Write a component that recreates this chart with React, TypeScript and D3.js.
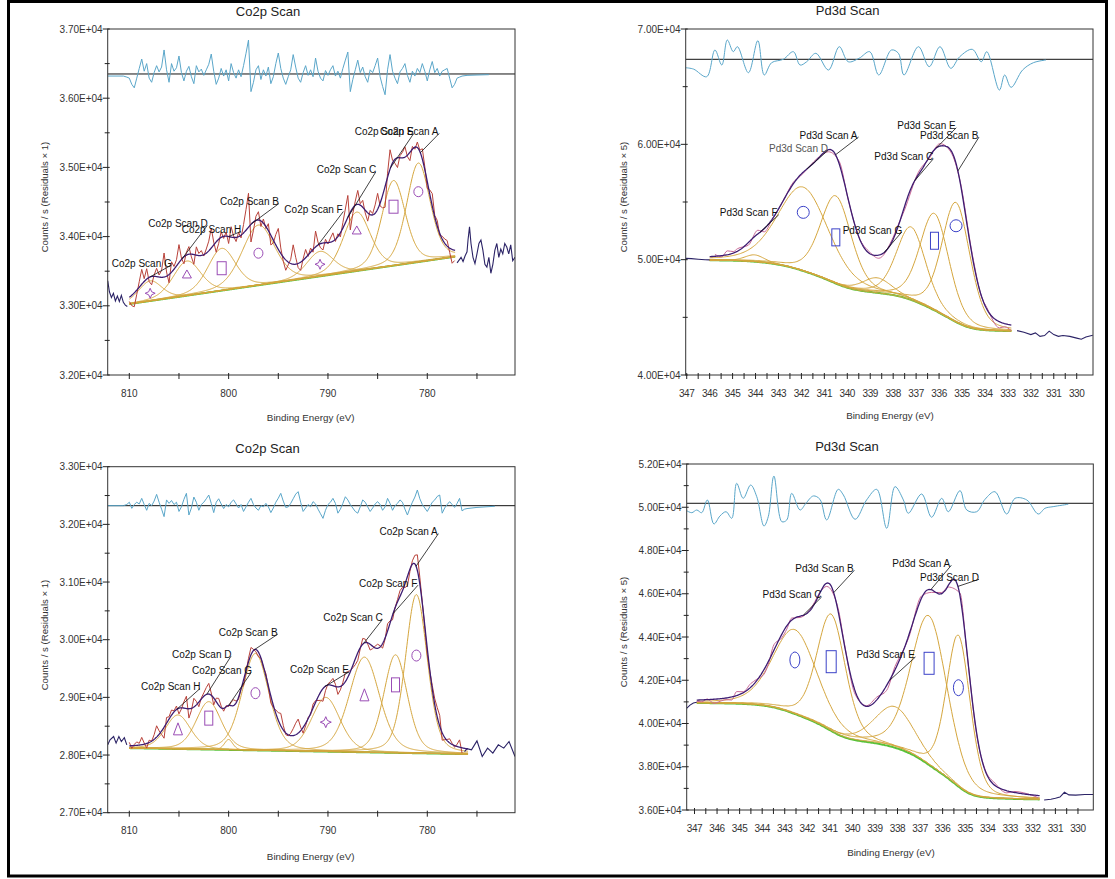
import React from 'react';
import * as d3 from 'd3';

type Peak = { name: string; center: number; height: number; fwhm: number; marker: string | null; markerV: number };
type Lbl = { name: string; textE: number; textV: number; targetE: number; faint?: boolean };

// ================= Co2p Scan (top) =================
const coTopPeaks: Peak[] = [
  { name: 'A', center: 780.9, height: 1430, fwhm: 2.8, marker: 'circle', markerV: 34649 },
  { name: 'E', center: 783.4, height: 1230, fwhm: 2.8, marker: 'square', markerV: 34432 },
  { name: 'C', center: 787.1, height: 850, fwhm: 3.2, marker: 'triangle', markerV: 34096 },
  { name: 'F', center: 790.8, height: 360, fwhm: 3.2, marker: 'star', markerV: 33600 },
  { name: 'B', center: 797.0, height: 870, fwhm: 3.9, marker: 'circle', markerV: 33760 },
  { name: 'H', center: 800.7, height: 610, fwhm: 3.3, marker: 'square', markerV: 33543 },
  { name: 'D', center: 804.2, height: 500, fwhm: 3.3, marker: 'triangle', markerV: 33460 },
  { name: 'G', center: 807.9, height: 290, fwhm: 2.8, marker: 'star', markerV: 33181 },
];
const coTopBackground = [[810.0, 33026], [777.2, 33710]];
const coTopLabels: Lbl[] = [
  { name: 'Co2p Scan G', textE: 811.77, textV: 33561, targetE: 807.9 },
  { name: 'Co2p Scan D', textE: 808.09, textV: 34139, targetE: 804.7 },
  { name: 'Co2p Scan H', textE: 804.72, textV: 34052, targetE: 800.0 },
  { name: 'Co2p Scan B', textE: 800.87, textV: 34457, targetE: 797.7 },
  { name: 'Co2p Scan F', textE: 794.39, textV: 34341, targetE: 791.0 },
  { name: 'Co2p Scan C', textE: 791.13, textV: 34912, targetE: 788.0 },
  { name: 'Co2p Scan E', textE: 787.31, textV: 35468, targetE: 783.7 },
  { name: 'Co2p Scan A', textE: 784.75, textV: 35468, targetE: 780.7 },
];
const coTopResidualStart = 810;
const coTopResidualStep = 0.25;
const coTopResidual = [
  -60, -150, -200, -60, 80, 216, 40, 150, -60, -120, 20, 120, 30, 100, 347, 60, -120, 150, 40, 90,
  260, 20, -100, 40, 110, -40, -140, 120, 30, 70, -20, 60, 140, 288, 40, -150, -60, 80, -30, 60,
  -100, 150, 20, -60, 60, -40, 120, 300, 491, -255, -120, 60, 120, -80, 60, -30, 100, -140, -40, 150,
  303, 80, -60, -150, -40, 60, 280, 100, -60, -120, 20, 120, -20, 60, -40, 230, 40, -60, -100, 50,
  -20, 60, 120, -30, 40, -60, 80, 200, 317, -255, -80, 60, 200, 20, 100, -40, -120, 60, 20, 120,
  230, -40, -180, -300, 60, 280, 40, -60, -140, 30, 80, 150, -20, -120, 40, -30, 80, 20, 150, 40,
  -100, 60, 180, 20, 80, -30, 40, 60, 80, -60, -200, -150,
];
const coTopResidualLeft = [[812.17, -30], [810.6, -30], [810.25, -45]];
const coTopResidualRight = [[777.0, -60], [776.75, -45], [776.5, -30], [776.0, -20], [775.0, -15], [773.8, -10]];
const coTopRawLeft = [
  [812.17, 33360], [812.0, 33200], [811.8, 33120], [811.6, 33180], [811.4, 33070], [811.2, 33140],
  [811.0, 33060], [810.8, 33150], [810.6, 33050], [810.4, 33010], [810.2, 32990],
];
const coTopRawRight = [
  [777.0, 33620], [776.8, 33660], [776.6, 33700], [776.4, 33640], [776.2, 33720], [776.0, 33780],
  [775.9, 33950], [775.75, 34140], [775.6, 33900], [775.4, 33700], [775.2, 33610], [775.0, 33750],
  [774.8, 33900], [774.6, 33950], [774.4, 33800], [774.2, 33600], [774.0, 33560], [773.8, 33700],
  [773.6, 33470], [773.4, 33600], [773.2, 33800], [773.0, 33900], [772.8, 33700], [772.6, 33820],
  [772.4, 33750], [772.2, 33900], [772.0, 33850], [771.8, 33750], [771.6, 33880], [771.4, 33650], [771.17, 33700],
];

// ================= Co2p Scan (bottom) =================
const coBotPeaks: Peak[] = [
  { name: 'A', center: 781.1, height: 2750, fwhm: 2.6, marker: 'circle', markerV: 29725 },
  { name: 'F', center: 783.2, height: 1700, fwhm: 2.8, marker: 'square', markerV: 29217 },
  { name: 'C', center: 786.33, height: 1650, fwhm: 3.6, marker: 'triangle', markerV: 29044 },
  { name: 'E', center: 790.22, height: 940, fwhm: 3.4, marker: 'star', markerV: 28570 },
  { name: 'B', center: 797.3, height: 1680, fwhm: 3.2, marker: 'circle', markerV: 29073 },
  { name: 'G', center: 800.0, height: 180, fwhm: 1.0, marker: null, markerV: 0 },
  { name: 'D', center: 802.0, height: 830, fwhm: 3.0, marker: 'square', markerV: 28640 },
  { name: 'H', center: 805.1, height: 590, fwhm: 3.0, marker: 'triangle', markerV: 28454 },
];
const coBotBackground = [[810.0, 28120], [775.9, 28016]];
const coBotLabels: Lbl[] = [
  { name: 'Co2p Scan A', textE: 784.82, textV: 31813, targetE: 781.13 },
  { name: 'Co2p Scan F', textE: 786.88, textV: 30919, targetE: 783.45 },
  { name: 'Co2p Scan C', textE: 790.47, textV: 30322, targetE: 786.4 },
  { name: 'Co2p Scan B', textE: 801.0, textV: 30069, targetE: 797.4 },
  { name: 'Co2p Scan E', textE: 793.82, textV: 29416, targetE: 790.3 },
  { name: 'Co2p Scan D', textE: 805.7, textV: 29688, targetE: 802.2 },
  { name: 'Co2p Scan G', textE: 803.69, textV: 29399, targetE: 800.0 },
  { name: 'Co2p Scan H', textE: 808.82, textV: 29127, targetE: 805.2 },
];
const coBotResidualStart = 810;
const coBotResidualStep = 0.25;
const coBotResidual = [
  60, -46, 20, 60, 30, 127, 20, -80, 40, 0, 80, 196, 60, -60, -190, 100, 40, 90, 20, 60,
  -100, -20, 110, 214, -162, -40, 150, 60, -80, 20, 60, 120, 185, 40, -120, 60, 120, 30, -50, 20,
  -20, 60, 100, 30, -40, 20, -100, -20, 60, 127, 20, -40, -80, 0, -20, 40, -20, -120, -40, 60,
  130, 214, 80, -30, -20, 40, 120, 200, 243, 60, -100, -40, 20, -20, 70, 30, -60, -140, -220, -80,
  20, 60, 127, 40, -130, -60, 40, 155, 100, 20, -40, -100, -130, -20, 100, 60, -20, -100, -40, 30,
  70, 20, -80, -20, 127, 40, -80, 0, 40, 100, 60, -60, -162, -40, 60, 150, 272, 120, 20, -40,
  -100, -20, 60, 100, 160, 185, -130, -40, 20, 70, 20, -30, 40, 127, -90,
];
const coBotResidualLeft = [[812.17, 0], [810.6, 0], [810.25, 20]];
const coBotResidualRight = [[776.25, -60], [776.0, -50], [775.5, -40], [775.0, -30], [773.2, -10]];
const coBotRawLeft = [
  [812.17, 28177], [811.94, 28264], [811.58, 28321], [811.33, 28207], [811.05, 28321],
  [810.8, 28235], [810.5, 28300], [810.25, 28177],
];
const coBotRawRight = [
  [776.25, 28060], [776.0, 28110], [775.55, 28090], [775.0, 28246], [774.47, 27974], [773.93, 28120],
  [773.4, 28033], [772.85, 28177], [772.3, 28120], [771.77, 28235], [771.17, 27974],
];

// ================= Pd3d Scan (top) =================
const pdTopPeaks: Peak[] = [
  { name: 'D', center: 341.92, height: 7270, fwhm: 2.6, marker: 'circle', markerV: 54102 },
  { name: 'A', center: 340.5, height: 7600, fwhm: 1.6, marker: 'square', markerV: 51934 },
  { name: 'F', center: 344.04, height: 590, fwhm: 1.0, marker: null, markerV: 0 },
  { name: 'G', center: 338.7, height: 1300, fwhm: 1.5, marker: null, markerV: 0 },
  { name: 'C', center: 337.22, height: 6330, fwhm: 1.5, marker: null, markerV: 0 },
  { name: 'E', center: 336.2, height: 8400, fwhm: 1.5, marker: 'square', markerV: 51640 },
  { name: 'B', center: 335.26, height: 10370, fwhm: 1.45, marker: 'circle', markerV: 52940 },
];
const pdTopBackground = [[346.0, 49950], [332.85, 43810]];
const pdTopLabels: Lbl[] = [
  { name: 'Pd3d Scan A', textE: 342.08, textV: 60503, targetE: 340.51 },
  { name: 'Pd3d Scan D', textE: 343.41, textV: 59349, targetE: 341.76, faint: true },
  { name: 'Pd3d Scan F', textE: 345.56, textV: 53764, targetE: 343.8 },
  { name: 'Pd3d Scan G', textE: 340.2, textV: 52264, targetE: 338.4 },
  { name: 'Pd3d Scan C', textE: 338.82, textV: 58621, targetE: 337.06 },
  { name: 'Pd3d Scan E', textE: 337.82, textV: 61310, targetE: 336.12 },
  { name: 'Pd3d Scan B', textE: 336.83, textV: 60503, targetE: 335.18 },
];
const pdTopResidual = [
  [347.04, -146], [346.7, -170], [346.13, -302], [345.77, 161], [345.47, -99], [345.23, 335], [344.97, 132],
  [344.79, 219], [344.31, -232], [343.9, 323], [343.62, -272], [343.3, -59], [342.79, 0], [342.35, 132],
  [342.06, -99], [341.77, -42], [341.37, 104], [340.82, -186], [340.35, 219], [339.96, -42], [339.49, 17],
  [339.02, 132], [338.63, -272], [338.08, 161], [337.77, 104], [337.53, -272], [336.9, 219], [336.43, -128],
  [335.96, 219], [335.49, -156], [335.1, 45], [334.55, 173], [334.16, -42], [333.92, 132], [333.37, -533],
  [333.14, -272], [332.86, -486], [332.36, -186], [331.89, -59], [331.34, -12],
];
const pdTopRawLeft = [[347.04, 50110], [346.8, 50090], [346.5, 50040], [346.2, 49990], [346.0, 49980]];
const pdTopRawRight = [
  [332.6, 43850], [332.3, 43700], [332.0, 43500], [331.8, 43650], [331.6, 43350], [331.4, 43420],
  [331.2, 43800], [331.0, 43500], [330.8, 43350], [330.6, 43420], [330.3, 43350], [330.0, 43200],
  [329.8, 43100], [329.6, 43300], [329.3, 43450],
];

// ================= Pd3d Scan (bottom) =================
const pdBotPeaks: Peak[] = [
  { name: 'C', center: 342.55, height: 3900, fwhm: 2.3, marker: 'circle', markerV: 42937 },
  { name: 'B', center: 340.94, height: 5400, fwhm: 1.5, marker: 'square', markerV: 42858 },
  { name: 'E', center: 338.12, height: 1900, fwhm: 2.1, marker: null, markerV: 0 },
  { name: 'A', center: 336.6, height: 6900, fwhm: 1.9, marker: 'square', markerV: 42784 },
  { name: 'D', center: 335.3, height: 7000, fwhm: 1.25, marker: 'circle', markerV: 41656 },
];
const pdBotBackground = [[346.9, 40950], [331.7, 36490]];
const pdBotLabels: Lbl[] = [
  { name: 'Pd3d Scan B', textE: 342.53, textV: 47015, targetE: 340.83 },
  { name: 'Pd3d Scan C', textE: 343.98, textV: 45781, targetE: 342.18 },
  { name: 'Pd3d Scan A', textE: 338.23, textV: 47247, targetE: 336.52 },
  { name: 'Pd3d Scan D', textE: 337.0, textV: 46599, targetE: 335.32 },
  { name: 'Pd3d Scan E', textE: 339.82, textV: 43006, targetE: 338.36 },
];
const pdBotResidual = [
  [347.35, -68], [347.12, -87], [346.9, -62], [346.68, -87], [346.43, 31], [346.14, -191], [345.87, -117],
  [345.6, -78], [345.35, -139], [345.13, 185], [344.84, 46], [344.51, 169], [344.24, 61], [343.92, -210],
  [343.73, -124], [343.48, 252], [343.13, -170], [342.91, -154], [342.69, 92], [342.32, -62], [342.06, 0],
  [341.73, 68], [341.44, 37], [341.14, -154], [340.63, 129], [340.4, 77], [339.88, -148], [339.37, 31],
  [338.92, 129], [338.48, -231], [338.11, 154], [337.74, 31], [337.52, -92], [336.93, 86], [336.49, -129],
  [336.04, 46], [335.75, -78], [335.23, 117], [334.93, -62], [334.49, -78], [334.12, 37], [333.68, 107],
  [333.16, -99], [332.79, 46], [332.27, 31], [331.76, -99], [331.46, -46], [331.1, -31], [330.43, -9],
];
const pdBotRawLeft = [[347.35, 40700], [347.2, 40850], [347.05, 40950], [346.9, 40980]];
const pdBotRawRight = [
  [331.5, 36460], [331.2, 36500], [331.0, 36540], [330.8, 36600], [330.6, 36820], [330.4, 36700],
  [330.1, 36690], [329.7, 36720], [329.32, 36720],
];

// ================= Axis ticks =================
const coXTicks = [810, 805, 800, 795, 790, 785, 780, 775];
const coXLabels = [810, 800, 790, 780];
const pdXTicks = d3.range(0, 35).map((i) => 347 - i * 0.5);
const pdXLabels = d3.range(0, 18).map((i) => 347 - i);
const coTopYLabels = [32000, 33000, 34000, 35000, 36000, 37000];
const coTopYMinor = [32500, 33500, 34500, 35500, 36500];
const coBotYLabels = [27000, 28000, 29000, 30000, 31000, 32000, 33000];
const coBotYMinor = [27500, 28500, 29500, 30500, 31500, 32500];
const pdTopYLabels = [40000, 50000, 60000, 70000];
const pdTopYMinor = [45000, 55000, 65000];
const pdBotYLabels = [36000, 38000, 40000, 42000, 44000, 46000, 48000, 50000, 52000];
const pdBotYMinor = [37000, 39000, 41000, 43000, 45000, 47000, 49000, 51000];

const FONT = "'Liberation Sans', Arial, Helvetica, sans-serif";
const C = {
  comp: '#d5a63e',
  bg: '#58c23a',
  env: '#3e1d72',
  rawCo: '#b8423a',
  rawPd: '#c96a98',
  tail: '#2b2366',
  resid: '#5aa6c9',
  markCo: '#9a4db5',
  markPd: '#3b42c8',
};

function gl(p: Peak, e: number, m: number) {
  const t = (e - p.center) / p.fwhm;
  return p.height * ((1 - m) * Math.exp(-4 * Math.LN2 * t * t) + m / (1 + 4 * t * t));
}

function Panel({ cfg }: { cfg: any }) {
  const x = d3.scaleLinear().domain(cfg.xDomain).range([cfg.left, cfg.right]);
  const y = d3.scaleLinear().domain(cfg.yDomain).range([cfg.bottom, cfg.top]);
  const peaks: Peak[] = cfg.peaks;
  const m = 0.3;
  const [[fitHi, bgHiV], [fitLo, bgLoV]] = cfg.background;
  const P = (e: number) => d3.sum(peaks, (p) => gl(p, e, m));
  const step = 0.02;
  const n = Math.round((fitHi - fitLo) / step);
  let bg: (e: number) => number;
  if (cfg.bgType === 'linear') {
    bg = (e) => bgLoV + ((bgHiV - bgLoV) * (e - fitLo)) / (fitHi - fitLo);
  } else {
    const cum = new Array(n + 1).fill(0);
    for (let i = 1; i <= n; i++) {
      const e0 = fitLo + (i - 1) * step;
      const e1 = fitLo + i * step;
      cum[i] = cum[i - 1] + ((P(e0) + P(e1)) / 2) * step;
    }
    const tot = cum[n];
    bg = (e) => {
      const i = Math.max(0, Math.min(n, Math.round((e - fitLo) / step)));
      return bgLoV + ((bgHiV - bgLoV) * cum[i]) / tot;
    };
  }
  const env = (e: number) => bg(e) + P(e);
  const fine = d3.range(0, Math.round((fitHi - fitLo) / 0.05) + 1).map((i) => fitHi - i * 0.05);

  const line = d3.line<number[]>().x((d) => x(d[0])).y((d) => y(d[1]));
  const smooth = d3.line<number[]>().x((d) => x(d[0])).y((d) => y(d[1])).curve(d3.curveMonotoneX);
  const resLine = d3
    .line<number[]>()
    .x((d) => x(d[0]))
    .y((d) => y(cfg.resBase + d[1] * cfg.resScale))
    .curve(cfg.resSmooth ? d3.curveCatmullRom.alpha(0.5) : d3.curveLinear);

  let resPts: number[][];
  let gridPts: number[][];
  if (cfg.residualGrid) {
    gridPts = cfg.residualGrid.map((v: number, i: number) => [cfg.resStart - i * cfg.resStep, v]);
    resPts = [...cfg.residualLeft, ...gridPts, ...cfg.residualRight];
  } else {
    gridPts = cfg.residualPairs;
    resPts = cfg.residualPairs;
  }
  const inFit = gridPts.filter((d: number[]) => d[0] <= fitHi + 1e-6 && d[0] >= fitLo - 1e-6);
  const rawFit = inFit.map((d: number[]) => [d[0], env(d[0]) + d[1]]);

  const clipId = `clip-${cfg.id}`;
  const ms = cfg.markerSize;
  const markColor = cfg.markColor;

  const marker = (p: Peak, i: number) => {
    if (!p.marker) return null;
    const cx = x(p.center);
    const cy = y(p.markerV);
    const common = { fill: 'none', stroke: markColor, strokeWidth: 1 };
    if (p.marker === 'circle')
      return <ellipse key={i} cx={cx} cy={cy} rx={ms.crx} ry={ms.cry} {...common} />;
    if (p.marker === 'square')
      return <rect key={i} x={cx - ms.sw / 2} y={cy - ms.sh / 2} width={ms.sw} height={ms.sh} {...common} />;
    if (p.marker === 'triangle')
      return (
        <path
          key={i}
          d={`M${cx},${cy - ms.th / 2}L${cx + ms.tw / 2},${cy + ms.th / 2}L${cx - ms.tw / 2},${cy + ms.th / 2}Z`}
          {...common}
        />
      );
    const R = ms.sr;
    const r = R * 0.3;
    return (
      <path
        key={i}
        d={`M${cx},${cy - R}L${cx + r},${cy - r}L${cx + R},${cy}L${cx + r},${cy + r}L${cx},${cy + R}L${cx - r},${cy + r}L${cx - R},${cy}L${cx - r},${cy - r}Z`}
        {...common}
      />
    );
  };

  const fmt = (v: number) => `${(v / 1e4).toFixed(2)}E+04`;

  return (
    <g fontFamily={FONT}>
      <defs>
        <clipPath id={clipId}>
          <rect x={cfg.left} y={cfg.top} width={cfg.right - cfg.left} height={cfg.bottom - cfg.top} />
        </clipPath>
      </defs>
      <text x={cfg.titleX} y={cfg.titleY} fontSize={13} textAnchor="middle" fill="#222">
        {cfg.title}
      </text>
      <g clipPath={`url(#${clipId})`}>
        <line x1={cfg.left} x2={cfg.right} y1={y(cfg.resBase)} y2={y(cfg.resBase)} stroke="#111" strokeWidth={1} />
        <path d={resLine(resPts) || ''} fill="none" stroke={C.resid} strokeWidth={1} />
        <path d={line(fine.map((e) => [e, bg(e)])) || ''} fill="none" stroke={C.bg} strokeWidth={2} />
        {peaks.map((p, i) => (
          <path
            key={i}
            d={line(fine.map((e) => [e, bg(e) + gl(p, e, m)])) || ''}
            fill="none"
            stroke={C.comp}
            strokeWidth={1}
          />
        ))}
        <path d={line(cfg.rawLeft) || ''} fill="none" stroke={C.tail} strokeWidth={1.1} />
        <path d={line(cfg.rawRight) || ''} fill="none" stroke={C.tail} strokeWidth={1.1} />
        <path
          d={(cfg.resSmooth ? smooth : line)(rawFit) || ''}
          fill="none"
          stroke={cfg.rawColor}
          strokeWidth={1}
        />
        <path d={line(fine.map((e) => [e, env(e)])) || ''} fill="none" stroke={C.env} strokeWidth={1.3} />
        {peaks.map(marker)}
      </g>
      {cfg.labels.map((l: Lbl, i: number) => {
        const tx = x(l.textE);
        const ty = y(l.textV);
        return (
          <g key={i}>
            <line x1={tx + 59} y1={ty - 1.5} x2={x(l.targetE)} y2={y(env(l.targetE))} stroke="#111" strokeWidth={0.8} />
            <text x={tx} y={ty} fontSize={10} fill={l.faint ? '#555' : '#111'}>
              {l.name}
            </text>
          </g>
        );
      })}
      <rect
        x={cfg.left}
        y={cfg.top}
        width={cfg.right - cfg.left}
        height={cfg.bottom - cfg.top}
        fill="none"
        stroke="#333"
        strokeWidth={1}
      />
      {cfg.xTicks.map((t: number, i: number) => (
        <line key={i} x1={x(t)} x2={x(t)} y1={cfg.bottom - 2} y2={cfg.bottom + 4} stroke="#222" strokeWidth={1} />
      ))}
      {cfg.xLabels.map((t: number, i: number) => (
        <text key={i} x={x(t)} y={cfg.xLabelY} fontSize={10} textAnchor="middle" fill="#333" letterSpacing={cfg.xLetter}>
          {t}
        </text>
      ))}
      {cfg.yLabels.map((v: number, i: number) => (
        <g key={i}>
          <line x1={cfg.left - 5} x2={cfg.left + 2} y1={y(v)} y2={y(v)} stroke="#222" strokeWidth={1} />
          <text x={cfg.left - 5} y={y(v) + 3.5} fontSize={10} textAnchor="end" fill="#333">
            {fmt(v)}
          </text>
        </g>
      ))}
      {cfg.yMinor.map((v: number, i: number) => (
        <line key={i} x1={cfg.left - 3} x2={cfg.left + 2} y1={y(v)} y2={y(v)} stroke="#222" strokeWidth={1} />
      ))}
      <text x={cfg.xTitleX} y={cfg.xTitleY} fontSize={9.8} textAnchor="middle" fill="#333">
        Binding Energy (eV)
      </text>
      <text
        transform={`translate(${cfg.yTitleX},${cfg.yTitleY}) rotate(-90)`}
        fontSize={9.6}
        textAnchor="middle"
        dy="0.35em"
        fill="#333"
      >
        {cfg.yTitle}
      </text>
    </g>
  );
}

const coMarkTop = { crx: 4.5, cry: 5, sw: 9, sh: 13, tw: 9, th: 8, sr: 5 };
const coMarkBot = { crx: 4.5, cry: 5.5, sw: 8, sh: 14, tw: 9, th: 12, sr: 5.5 };
const pdMarkTop = { crx: 6, cry: 6, sw: 8, sh: 17 };
const pdMarkBot = { crx: 5, cry: 8, sw: 10, sh: 22 };

const panels = [
  {
    id: 'tl', title: 'Co2p Scan', titleX: 268, titleY: 15.5,
    left: 107.7, right: 515, top: 29, bottom: 375,
    xDomain: [812.175, 771.17], yDomain: [32000, 37000],
    xTicks: coXTicks, xLabels: coXLabels, xLabelY: 396.5, xLetter: 0,
    yLabels: coTopYLabels, yMinor: coTopYMinor,
    xTitleX: 310.7, xTitleY: 420.5, yTitleX: 44.6, yTitleY: 197, yTitle: 'Counts / s  (Residuals × 1)',
    peaks: coTopPeaks, background: coTopBackground, bgType: 'linear', labels: coTopLabels,
    residualGrid: coTopResidual, resStart: coTopResidualStart, resStep: coTopResidualStep,
    residualLeft: coTopResidualLeft, residualRight: coTopResidualRight,
    resBase: 36350, resScale: 1, resSmooth: false,
    rawLeft: coTopRawLeft, rawRight: coTopRawRight, rawColor: C.rawCo,
    markerSize: coMarkTop, markColor: C.markCo,
  },
  {
    id: 'bl', title: 'Co2p Scan', titleX: 267.5, titleY: 453,
    left: 107.7, right: 515, top: 466.7, bottom: 812.7,
    xDomain: [812.175, 771.17], yDomain: [27000, 33000],
    xTicks: coXTicks, xLabels: coXLabels, xLabelY: 833.5, xLetter: 0,
    yLabels: coBotYLabels, yMinor: coBotYMinor,
    xTitleX: 310.7, xTitleY: 859.5, yTitleX: 44.6, yTitleY: 635, yTitle: 'Counts / s  (Residuals × 1)',
    peaks: coBotPeaks, background: coBotBackground, bgType: 'linear', labels: coBotLabels,
    residualGrid: coBotResidual, resStart: coBotResidualStart, resStep: coBotResidualStep,
    residualLeft: coBotResidualLeft, residualRight: coBotResidualRight,
    resBase: 32324, resScale: 1, resSmooth: false,
    rawLeft: coBotRawLeft, rawRight: coBotRawRight, rawColor: C.rawCo,
    markerSize: coMarkBot, markColor: C.markCo,
  },
  {
    id: 'tr', title: 'Pd3d Scan', titleX: 847.6, titleY: 15,
    left: 685.7, right: 1093, top: 29, bottom: 375,
    xDomain: [347.044, 329.29], yDomain: [40000, 70000],
    xTicks: pdXTicks, xLabels: pdXLabels, xLabelY: 396.5, xLetter: -0.4,
    yLabels: pdTopYLabels, yMinor: pdTopYMinor,
    xTitleX: 890, xTitleY: 418.5, yTitleX: 623.3, yTitleY: 197, yTitle: 'Counts / s  (Residuals × 5)',
    peaks: pdTopPeaks, background: pdTopBackground, bgType: 'shirley', labels: pdTopLabels,
    residualPairs: pdTopResidual, resBase: 67372, resScale: 5, resSmooth: true,
    rawLeft: pdTopRawLeft, rawRight: pdTopRawRight, rawColor: C.rawPd,
    markerSize: pdMarkTop, markColor: C.markPd,
  },
  {
    id: 'br', title: 'Pd3d Scan', titleX: 847, titleY: 451,
    left: 686.7, right: 1093.3, top: 464, bottom: 810,
    xDomain: [347.346, 329.32], yDomain: [36000, 52000],
    xTicks: pdXTicks, xLabels: pdXLabels, xLabelY: 831.5, xLetter: -0.4,
    yLabels: pdBotYLabels, yMinor: pdBotYMinor,
    xTitleX: 891, xTitleY: 855.5, yTitleX: 623.3, yTitleY: 632, yTitle: 'Counts / s  (Residuals × 5)',
    peaks: pdBotPeaks, background: pdBotBackground, bgType: 'shirley', labels: pdBotLabels,
    residualPairs: pdBotResidual, resBase: 50183, resScale: 5, resSmooth: true,
    rawLeft: pdBotRawLeft, rawRight: pdBotRawRight, rawColor: C.rawPd,
    markerSize: pdMarkBot, markColor: C.markPd,
  },
];

export default function App() {
  return (
    <svg
      width={1115}
      height={879}
      style={{ position: 'absolute', left: 0, top: 0, background: '#fff' }}
      xmlns="http://www.w3.org/2000/svg"
    >
      <rect x={0} y={0} width={1115} height={879} fill="#fff" />
      {panels.map((p) => (
        <Panel key={p.id} cfg={p} />
      ))}
      <rect x={8.5} y={1.5} width={1098} height={874.5} fill="none" stroke="#000" strokeWidth={3} />
    </svg>
  );
}
